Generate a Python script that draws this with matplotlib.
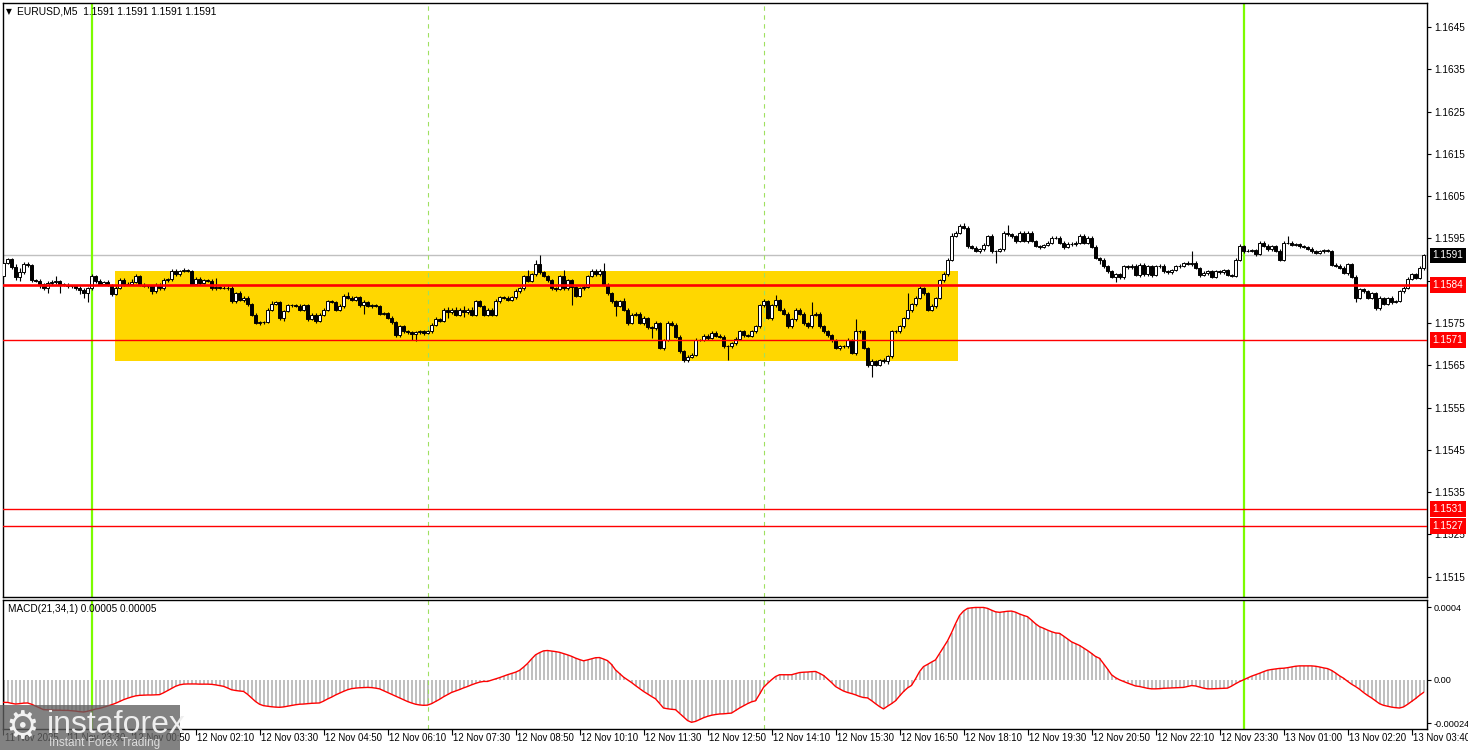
import numpy as np
import matplotlib
matplotlib.use("Agg")
import matplotlib.pyplot as plt
from matplotlib.patches import Rectangle
from matplotlib.transforms import blended_transform_factory

plt.rcParams["font.family"] = ["Liberation Sans", "DejaVu Sans"]

# prices are stored in pips above 1.1500 (EURUSD, M5 bars)
BASE = 1.1500
first_open = 86.1
close_pips = [
    89.2, 90.1, 88.2, 85.9, 87.0, 89.0, 88.7, 85.1, 84.9, 84.2,
    83.3, 84.4, 84.7, 84.9, 84.2, 84.0, 83.7, 83.7, 83.3, 82.9,
    82.1, 83.2, 86.1, 84.9, 84.3, 84.7, 84.0, 81.9, 83.3, 85.1,
    84.2, 84.3, 84.8, 86.1, 84.1, 83.8, 83.8, 82.5, 84.1, 83.2,
    85.1, 85.3, 87.3, 86.5, 87.3, 87.5, 87.3, 84.3, 85.5, 84.5,
    85.1, 85.0, 83.2, 83.5, 83.4, 83.4, 83.3, 80.1, 82.1, 80.5,
    81.0, 79.4, 77.0, 75.0, 75.2, 75.2, 78.2, 79.5, 79.9, 76.2,
    77.8, 79.2, 79.2, 79.0, 78.2, 79.2, 76.0, 77.0, 75.5, 77.0,
    78.2, 80.1, 80.0, 78.2, 79.0, 81.3, 81.0, 80.5, 81.1, 79.2,
    80.0, 79.0, 79.2, 79.0, 77.2, 77.3, 76.2, 75.2, 72.1, 74.2,
    73.0, 72.8, 72.5, 72.8, 73.0, 72.6, 73.0, 74.6, 76.0, 75.6,
    78.2, 77.5, 78.2, 77.0, 78.2, 77.5, 78.2, 77.0, 80.1, 79.0,
    77.0, 78.2, 77.0, 80.1, 81.1, 81.0, 80.4, 81.1, 82.5, 83.2,
    86.1, 85.0, 86.5, 89.0, 87.0, 86.1, 85.1, 83.2, 83.0, 86.1,
    83.2, 85.1, 83.5, 81.5, 83.3, 83.5, 86.1, 87.3, 86.5, 87.3,
    84.1, 82.1, 80.1, 79.0, 80.1, 78.2, 75.0, 77.0, 77.2, 75.0,
    76.2, 74.0, 73.8, 75.0, 69.1, 71.0, 75.0, 74.6, 71.8, 68.3,
    66.3, 67.0, 67.5, 71.0, 71.0, 72.0, 71.5, 72.7, 72.0, 71.8,
    69.5, 69.5, 70.2, 71.3, 73.0, 72.1, 72.0, 73.0, 74.2, 79.2,
    80.1, 76.2, 79.2, 80.5, 78.2, 77.2, 74.2, 76.0, 78.2, 77.2,
    75.0, 74.2, 77.0, 77.2, 74.2, 73.0, 72.1, 71.0, 69.1, 69.5,
    69.5, 71.0, 67.9, 73.0, 73.0, 69.1, 65.1, 66.0, 65.1, 66.3,
    66.0, 67.1, 73.0, 73.0, 74.2, 76.2, 78.0, 79.4, 81.0, 83.3,
    82.1, 78.2, 79.0, 80.9, 85.1, 86.5, 90.0, 95.6, 96.4, 98.0,
    97.5, 93.2, 92.8, 92.0, 92.4, 93.5, 95.6, 92.0, 92.0, 92.4,
    96.4, 96.0, 95.5, 94.4, 96.4, 94.4, 96.4, 94.4, 93.2, 93.0,
    93.5, 94.0, 95.2, 95.2, 94.0, 93.0, 93.8, 93.6, 94.0, 95.6,
    94.0, 95.2, 93.0, 90.4, 90.0, 88.4, 87.2, 86.0, 86.5, 85.8,
    88.4, 88.2, 88.6, 86.4, 88.8, 86.5, 88.4, 86.4, 88.4, 88.6,
    87.2, 87.0, 87.5, 88.4, 88.6, 89.2, 89.0, 89.3, 88.0, 86.4,
    86.8, 87.2, 86.0, 87.2, 87.0, 87.5, 86.4, 86.2, 90.0, 93.2,
    92.0, 92.0, 92.2, 91.3, 94.0, 93.2, 92.4, 93.2, 92.0, 90.0,
    94.0, 94.0, 93.5, 93.6, 93.2, 93.0, 92.6, 92.0, 91.6, 92.0,
    92.2, 92.0, 88.8, 88.6, 88.0, 86.8, 89.0, 86.0, 81.0, 83.0,
    82.5, 81.0, 82.0, 78.5, 80.9, 79.5, 80.9, 80.0, 80.2, 82.5,
    83.3, 85.5, 86.5, 85.7, 88.0, 91.0,
]
up_wick = [
    0.3, 0.4, 0.3, 0.7, 1.1, 0.5, 0.4, 0.3, 0.2, 0.4,
    0.3, 0.5, 0.4, 1.2, 0.3, 0.3, 0.4, 0.3, 0.3, 0.4,
    0.3, 0.4, 0.4, 0.3, 0.5, 0.3, 0.4, 0.3, 0.4, 0.5,
    0.6, 0.3, 0.5, 0.4, 0.3, 0.4, 0.3, 0.3, 0.3, 0.4,
    0.6, 0.3, 0.4, 0.5, 0.3, 0.6, 0.4, 0.3, 0.5, 0.3,
    0.4, 0.3, 0.3, 2.2, 0.3, 0.4, 0.3, 0.4, 0.3, 0.4,
    0.5, 0.3, 0.3, 0.3, 0.4, 0.3, 0.3, 0.7, 0.4, 0.3,
    0.3, 0.4, 0.3, 0.3, 0.4, 0.3, 0.3, 0.4, 0.3, 0.4,
    0.3, 0.4, 0.3, 0.3, 0.4, 0.5, 1.1, 0.3, 0.4, 0.3,
    0.4, 0.3, 0.4, 0.3, 0.3, 0.4, 0.3, 0.4, 0.3, 0.4,
    0.3, 0.4, 0.3, 0.4, 0.3, 0.3, 0.4, 0.3, 0.5, 0.3,
    0.4, 0.6, 0.3, 0.7, 0.3, 0.8, 0.3, 0.6, 0.4, 0.3,
    0.3, 0.4, 0.3, 0.5, 0.4, 0.3, 0.4, 0.3, 0.6, 0.4,
    0.3, 1.5, 0.4, 1.0, 2.0, 0.4, 0.3, 0.3, 0.4, 0.3,
    1.5, 0.3, 0.4, 0.3, 0.3, 0.4, 0.3, 0.5, 0.4, 0.6,
    2.0, 0.3, 0.3, 0.4, 0.3, 0.8, 0.3, 0.4, 0.3, 0.3,
    0.4, 0.3, 0.4, 0.5, 0.3, 0.3, 0.4, 0.6, 0.3, 0.4,
    0.3, 0.5, 0.3, 0.4, 0.3, 0.3, 0.4, 0.3, 0.3, 0.4,
    0.3, 0.3, 0.4, 0.3, 0.4, 0.3, 0.3, 0.4, 0.3, 0.3,
    0.5, 0.3, 0.4, 1.2, 0.3, 0.3, 0.4, 0.3, 0.4, 0.3,
    0.4, 0.3, 2.9, 0.3, 0.3, 0.4, 0.3, 0.3, 0.3, 0.4,
    0.3, 0.4, 0.3, 3.0, 0.4, 0.3, 0.3, 0.4, 0.3, 0.3,
    0.4, 0.3, 0.4, 0.3, 0.4, 0.3, 4.0, 0.3, 0.4, 0.4,
    0.3, 0.3, 0.4, 0.3, 0.3, 0.5, 0.4, 0.6, 0.4, 0.5,
    0.6, 0.4, 0.3, 0.4, 0.3, 0.4, 0.3, 0.5, 0.3, 0.4,
    0.3, 1.8, 0.4, 0.3, 0.4, 0.3, 0.3, 0.4, 0.3, 0.3,
    0.3, 0.4, 0.3, 0.4, 0.3, 0.4, 0.3, 0.3, 0.4, 0.5,
    0.4, 0.3, 0.3, 0.4, 0.3, 0.3, 0.4, 0.3, 0.3, 0.4,
    0.3, 0.4, 0.3, 0.3, 0.4, 0.3, 0.3, 0.4, 0.3, 0.4,
    0.3, 0.3, 0.4, 0.3, 0.4, 0.3, 0.4, 2.7, 0.3, 0.3,
    0.4, 0.3, 0.3, 0.4, 0.3, 0.4, 0.3, 0.3, 0.4, 0.5,
    0.3, 0.4, 0.3, 0.3, 0.4, 0.3, 0.4, 0.3, 0.3, 0.4,
    0.3, 1.5, 0.4, 0.3, 0.4, 0.3, 0.3, 0.4, 0.3, 0.3,
    0.4, 0.3, 0.3, 0.4, 0.3, 0.4, 0.3, 0.3, 0.4, 0.3,
    0.4, 0.3, 0.4, 0.3, 0.4, 0.3, 0.3, 0.4, 0.3, 0.3,
    0.4, 0.3, 0.4, 0.3, 0.5, 0.4,
]
down_wick = [
    0.3, 0.3, 0.4, 0.7, 1.0, 0.3, 0.4, 0.3, 0.3, 0.9,
    0.4, 1.2, 0.3, 0.4, 2.1, 0.3, 0.4, 0.3, 0.4, 1.0,
    1.2, 2.2, 0.3, 0.4, 0.3, 0.4, 0.3, 0.4, 0.3, 0.3,
    0.4, 0.3, 0.4, 0.3, 0.4, 0.3, 0.4, 0.6, 0.3, 0.4,
    0.3, 0.4, 0.3, 0.3, 0.4, 0.3, 0.3, 0.4, 0.3, 0.4,
    0.3, 0.4, 0.3, 0.4, 0.3, 0.3, 0.4, 0.3, 0.4, 0.3,
    0.6, 0.4, 0.3, 0.3, 0.4, 0.5, 0.3, 0.4, 0.3, 0.4,
    0.8, 0.3, 0.4, 0.3, 0.4, 0.3, 0.4, 0.3, 0.6, 0.3,
    0.4, 0.3, 0.3, 0.4, 0.3, 0.4, 0.3, 0.3, 0.4, 0.3,
    2.0, 0.3, 0.4, 0.3, 0.4, 0.3, 0.3, 0.4, 0.3, 0.4,
    0.3, 0.4, 1.5, 1.8, 0.3, 0.4, 0.3, 0.3, 0.4, 0.3,
    0.3, 1.2, 0.4, 0.3, 0.4, 1.0, 0.3, 0.4, 0.3, 0.3,
    0.4, 0.3, 0.3, 0.4, 0.3, 0.4, 0.3, 0.3, 0.4, 0.3,
    0.3, 0.4, 0.3, 0.3, 0.4, 0.3, 0.4, 0.3, 0.4, 0.3,
    0.4, 0.3, 4.3, 0.4, 0.3, 0.4, 0.3, 0.3, 0.4, 0.3,
    0.3, 0.4, 0.3, 2.4, 0.3, 0.3, 0.4, 0.3, 0.4, 0.3,
    0.4, 0.3, 2.3, 0.4, 0.3, 0.4, 0.3, 0.3, 0.4, 0.3,
    0.4, 0.6, 0.3, 0.4, 0.3, 0.3, 0.4, 0.3, 0.3, 0.4,
    0.3, 3.2, 0.4, 0.3, 0.4, 0.3, 0.3, 0.4, 0.3, 0.3,
    0.4, 0.3, 0.4, 0.3, 0.3, 0.4, 0.3, 0.3, 0.4, 0.3,
    0.4, 0.3, 0.4, 0.3, 0.3, 0.4, 0.3, 0.4, 0.3, 0.4,
    0.3, 0.4, 0.3, 0.4, 0.3, 0.3, 0.4, 2.9, 0.3, 0.3,
    0.4, 0.8, 0.3, 0.4, 0.3, 0.4, 0.3, 0.4, 0.3, 0.3,
    0.4, 0.3, 0.3, 0.4, 0.3, 0.3, 0.4, 0.3, 0.3, 0.4,
    0.3, 0.4, 0.3, 0.3, 0.4, 0.3, 0.3, 0.4, 2.8, 0.3,
    0.4, 0.3, 0.3, 0.4, 0.3, 0.3, 0.4, 0.3, 0.3, 0.4,
    0.3, 0.3, 0.4, 0.3, 0.3, 0.4, 0.3, 0.3, 0.4, 0.3,
    0.3, 0.4, 0.3, 0.3, 1.0, 0.3, 0.4, 0.3, 1.2, 0.4,
    0.3, 0.4, 0.3, 0.3, 0.4, 0.3, 0.3, 0.4, 0.3, 0.4,
    0.3, 0.4, 0.3, 0.3, 0.4, 0.3, 0.3, 0.4, 0.3, 0.4,
    0.3, 0.4, 0.3, 0.3, 0.4, 0.3, 0.3, 0.4, 0.3, 0.3,
    0.4, 0.3, 0.3, 0.4, 0.3, 0.3, 0.4, 0.3, 0.3, 0.4,
    0.3, 0.4, 0.3, 0.3, 0.4, 0.3, 0.3, 0.4, 0.3, 0.3,
    0.4, 0.3, 0.3, 0.4, 0.3, 0.3, 0.4, 0.3, 1.0, 0.3,
    0.4, 0.3, 0.4, 0.3, 0.4, 0.3, 0.3, 0.4, 0.3, 0.3,
    0.4, 0.3, 0.4, 0.3, 0.3, 0.4,
]
# MACD(21,34,1) main value in units of 0.00001 (signal equals main with period 1)
macd_1e5 = [
    -12.5, -12.5, -13.0, -13.4, -13.2, -12.9, -12.8, -13.5, -14.5, -15.5,
    -16.5, -16.6, -16.7, -16.8, -16.8, -16.9, -16.9, -17.1, -17.3, -17.6,
    -17.8, -17.4, -16.8, -16.2, -15.8, -15.2, -14.5, -13.8, -13.0, -12.0,
    -11.0, -10.2, -9.5, -8.9, -8.6, -8.5, -8.4, -8.4, -8.3, -8.2,
    -7.2, -6.0, -4.8, -3.6, -2.8, -2.4, -2.3, -2.3, -2.3, -2.4,
    -2.4, -2.4, -2.5, -2.8, -3.2, -3.6, -4.5, -5.5, -5.9, -6.2,
    -6.4, -8.0, -10.0, -12.0, -13.5, -14.3, -14.6, -14.9, -15.1, -15.2,
    -15.0, -14.6, -14.2, -13.8, -13.5, -13.4, -13.2, -13.0, -12.9, -12.8,
    -11.8, -10.6, -9.6, -8.4, -7.4, -6.4, -5.5, -4.9, -4.6, -4.4,
    -4.3, -4.2, -4.3, -4.6, -5.0, -6.0, -7.0, -8.0, -9.0, -10.0,
    -11.0, -12.0, -12.8, -13.5, -13.9, -14.1, -14.0, -13.2, -12.0, -10.8,
    -9.4, -8.2, -7.0, -6.2, -5.4, -4.5, -3.7, -2.8, -2.0, -1.3,
    -0.9, -0.9, -0.2, 0.5, 1.2, 2.0, 2.8, 3.5, 4.2, 5.2,
    7.0, 9.0, 11.5, 13.8, 15.0, 16.0, 16.2, 15.9, 15.6, 15.2,
    14.5, 13.8, 13.0, 12.0, 11.2, 10.5, 11.0, 11.6, 12.2, 12.3,
    11.5, 10.6, 8.5, 5.5, 3.5, 1.5, 0.0, -1.5, -3.2, -4.8,
    -6.4, -7.8, -9.2, -10.5, -13.0, -15.6, -16.0, -16.3, -16.5, -18.5,
    -20.5, -22.5, -23.5, -23.0, -22.0, -21.0, -20.2, -19.6, -19.2, -18.9,
    -18.8, -18.6, -18.4, -17.0, -15.6, -14.4, -13.2, -12.2, -11.6, -8.0,
    -4.2, -2.0, 0.0, 1.8, 2.8, 2.8, 2.8, 2.8, 3.4, 4.0,
    4.2, 4.3, 4.5, 4.6, 3.6, 2.4, 0.5, -1.5, -3.7, -5.0,
    -6.2, -7.0, -7.6, -8.3, -9.2, -9.8, -10.0, -11.5, -13.2, -14.8,
    -16.1, -14.6, -13.2, -11.6, -9.0, -6.5, -4.5, -3.1, 0.5, 4.5,
    7.3, 8.5, 9.8, 11.0, 14.5, 18.0, 21.5, 26.0, 31.0, 35.5,
    38.0, 39.5, 39.8, 40.0, 40.0, 40.0, 39.5, 38.5, 37.6, 37.3,
    37.6, 37.9, 38.0, 37.4, 36.4, 35.6, 34.9, 33.0, 31.0, 29.4,
    28.5, 27.5, 26.6, 25.9, 25.7, 24.2, 22.6, 21.0, 20.0, 19.0,
    17.6, 16.2, 14.6, 12.9, 11.9, 9.0, 6.0, 2.8, 1.2, 0.0,
    -0.9, -1.8, -2.6, -3.4, -3.7, -4.2, -4.7, -5.0, -5.0, -4.9,
    -4.7, -4.6, -4.5, -4.4, -4.3, -4.2, -3.7, -3.2, -3.4, -4.0,
    -4.6, -5.0, -5.0, -4.9, -4.8, -4.7, -4.6, -3.5, -2.2, -1.0,
    0.0, 1.0, 2.0, 2.8, 3.6, 4.5, 5.3, 5.7, 6.0, 6.3,
    6.4, 6.7, 7.1, 7.5, 7.7, 7.7, 7.7, 7.7, 7.5, 7.1,
    6.6, 6.2, 5.2, 3.8, 2.2, 0.9, -0.8, -2.4, -3.7, -5.2,
    -7.0, -8.6, -10.0, -11.6, -13.2, -14.1, -14.6, -15.1, -15.4, -15.6,
    -15.0, -13.6, -12.0, -10.4, -8.6, -7.0,
]

time_label_bars = [0, 16, 32, 48, 64, 80, 96, 112, 128, 144, 160, 176,
                   192, 208, 224, 240, 256, 272, 288, 304, 320, 336, 352]
time_labels = ["11 Nov 2025", "11 Nov 23:30", "12 Nov 00:50", "12 Nov 02:10",
               "12 Nov 03:30", "12 Nov 04:50", "12 Nov 06:10", "12 Nov 07:30",
               "12 Nov 08:50", "12 Nov 10:10", "12 Nov 11:30", "12 Nov 12:50",
               "12 Nov 14:10", "12 Nov 15:30", "12 Nov 16:50", "12 Nov 18:10",
               "12 Nov 19:30", "12 Nov 20:50", "12 Nov 22:10", "12 Nov 23:30",
               "13 Nov 01:00", "13 Nov 02:20", "13 Nov 03:40"]
price_ticks = [1.1645, 1.1635, 1.1625, 1.1615, 1.1605, 1.1595, 1.1585,
               1.1575, 1.1565, 1.1555, 1.1545, 1.1535, 1.1525, 1.1515]
current_price = 1.1591
red_levels = [1.1584, 1.1571, 1.1531, 1.1527]
zone_bars = (27.9, 238.6)
zone_prices = (1.15661, 1.15873)
day_bars = [22, 310]
session_bars = [106, 190]
macd_ticks = [40, 0, -24]
macd_tick_labels = ["0.0004", "0.00", "-0.00024"]

closes = BASE + np.array(close_pips) / 1e4
opens = BASE + np.r_[first_open, close_pips[:-1]] / 1e4
highs = np.maximum(opens, closes) + np.array(up_wick) / 1e4
lows = np.minimum(opens, closes) - np.array(down_wick) / 1e4
macd = np.array(macd_1e5)
x = np.arange(len(closes))

W, H = 1468, 750
fig = plt.figure(figsize=(W / 100, H / 100), dpi=100)
fig.patch.set_facecolor("white")

ax = fig.add_axes([3 / W, (H - 597) / H, 1424 / W, 594 / H])
axm = fig.add_axes([3 / W, (H - 729) / H, 1424 / W, 129.5 / H])

for a in (ax, axm):
    a.set_xlim(-0.125, 355.875)
    for s in a.spines.values():
        s.set_color("black")
        s.set_linewidth(1.0)
    a.yaxis.tick_right()
    a.tick_params(axis="y", which="both", direction="out", length=3, width=0.8,
                  labelsize=7.2, pad=2, colors="black", left=False)

# ---- price panel ----
ax.set_ylim(1.15102, 1.16507)
ax.set_xticks([])
ax.set_yticks(price_ticks)
ax.set_yticklabels([f"{p:.4f}" for p in price_ticks])

ax.add_patch(Rectangle((zone_bars[0], zone_prices[0]), zone_bars[1] - zone_bars[0],
                       zone_prices[1] - zone_prices[0], facecolor="#FFD700",
                       edgecolor="none", zorder=1))
ax.axhline(current_price, color="#C0C0C0", lw=1.0, zorder=2)
for b in day_bars:
    ax.axvline(b, color="#7CFC00", lw=1.6, zorder=2.5)
    axm.axvline(b, color="#7CFC00", lw=1.6, zorder=2.5)
for b in session_bars:
    ax.axvline(b, color="#9FE060", lw=0.8, ls=(0, (4, 4)), zorder=2.5)
    axm.axvline(b, color="#9FE060", lw=0.8, ls=(0, (4, 4)), zorder=2.5)

ax.vlines(x, lows, highs, color="black", lw=0.8, zorder=3)
bull = closes >= opens
body_lo = np.minimum(opens, closes)
body_h = np.abs(closes - opens)
ax.bar(x[bull], body_h[bull], bottom=body_lo[bull], width=0.62, color="white",
       edgecolor="black", linewidth=0.7, zorder=4)
ax.bar(x[~bull], body_h[~bull], bottom=body_lo[~bull], width=0.62, color="black",
       edgecolor="black", linewidth=0.7, zorder=4)

ax.axhline(red_levels[0], color="red", lw=1.9, zorder=5)
for lv in red_levels[1:]:
    ax.axhline(lv, color="red", lw=1.0, zorder=5)

tr = blended_transform_factory(ax.transAxes, ax.transData)
x_lab = 1.0 + 5.5 / 1424
ax.text(x_lab, current_price, f"{current_price:.4f}", transform=tr, ha="left",
        va="center", fontsize=7.2, color="white", clip_on=False, zorder=10,
        bbox=dict(boxstyle="square,pad=0.28", fc="black", ec="none"))
for lv in red_levels:
    ax.text(x_lab, lv, f"{lv:.4f}", transform=tr, ha="left", va="center",
            fontsize=7.2, color="white", clip_on=False, zorder=10,
            bbox=dict(boxstyle="square,pad=0.28", fc="red", ec="none"))

fig.text(6 / W, 1 - 12 / H, "\u25BC", fontsize=5.5, va="center", ha="left",
         family=["DejaVu Sans"])
fig.text(17 / W, 1 - 12 / H, "EURUSD,M5  1.1591 1.1591 1.1591 1.1591",
         fontsize=7.4, va="center", ha="left")

# ---- MACD panel ----
axm.set_ylim(-27.2, 44.4)
axm.bar(x, macd, width=0.5, color="#C0C0C0", linewidth=0, zorder=2)
axm.plot(x, macd, color="red", lw=1.0, zorder=3)
axm.set_yticks(macd_ticks)
axm.set_yticklabels(macd_tick_labels)
axm.tick_params(axis="y", labelsize=6.6, pad=1.5)
axm.text(5 / 1424, 1 - 9 / 129.5, "MACD(21,34,1) 0.00005 0.00005",
         transform=axm.transAxes, fontsize=7.2, va="center", ha="left")

axm.set_xticks(time_label_bars)
axm.set_xticklabels([""] * len(time_label_bars))
axm.tick_params(axis="x", direction="out", length=4, width=0.8)
trm = blended_transform_factory(axm.transData, axm.transAxes)
for b, lab in zip(time_label_bars, time_labels):
    axm.text(b + 0.4, -9 / 129.5, lab, transform=trm, ha="left", va="center",
             fontsize=6.9, clip_on=False)

# ---- watermark logo ----
fig.patches.append(Rectangle((0, 0), 180 / W, 45 / H, transform=fig.transFigure,
                             facecolor="#5f5f5f", alpha=0.78, edgecolor="none",
                             zorder=20))
fig.text(5 / W, 22 / H, "\u2699", fontsize=27, color="#f2f2f2", va="center",
         ha="left", family=["DejaVu Sans"], zorder=21)
fig.text(47 / W, 25 / H, "instaforex", fontsize=23, color="#eeeeee",
         va="center", ha="left", zorder=21)
fig.text(49 / W, 7 / H, "Instant Forex Trading", fontsize=8.5, color="#dddddd",
         va="center", ha="left", zorder=21)

fig.savefig("out.png", dpi=100)
